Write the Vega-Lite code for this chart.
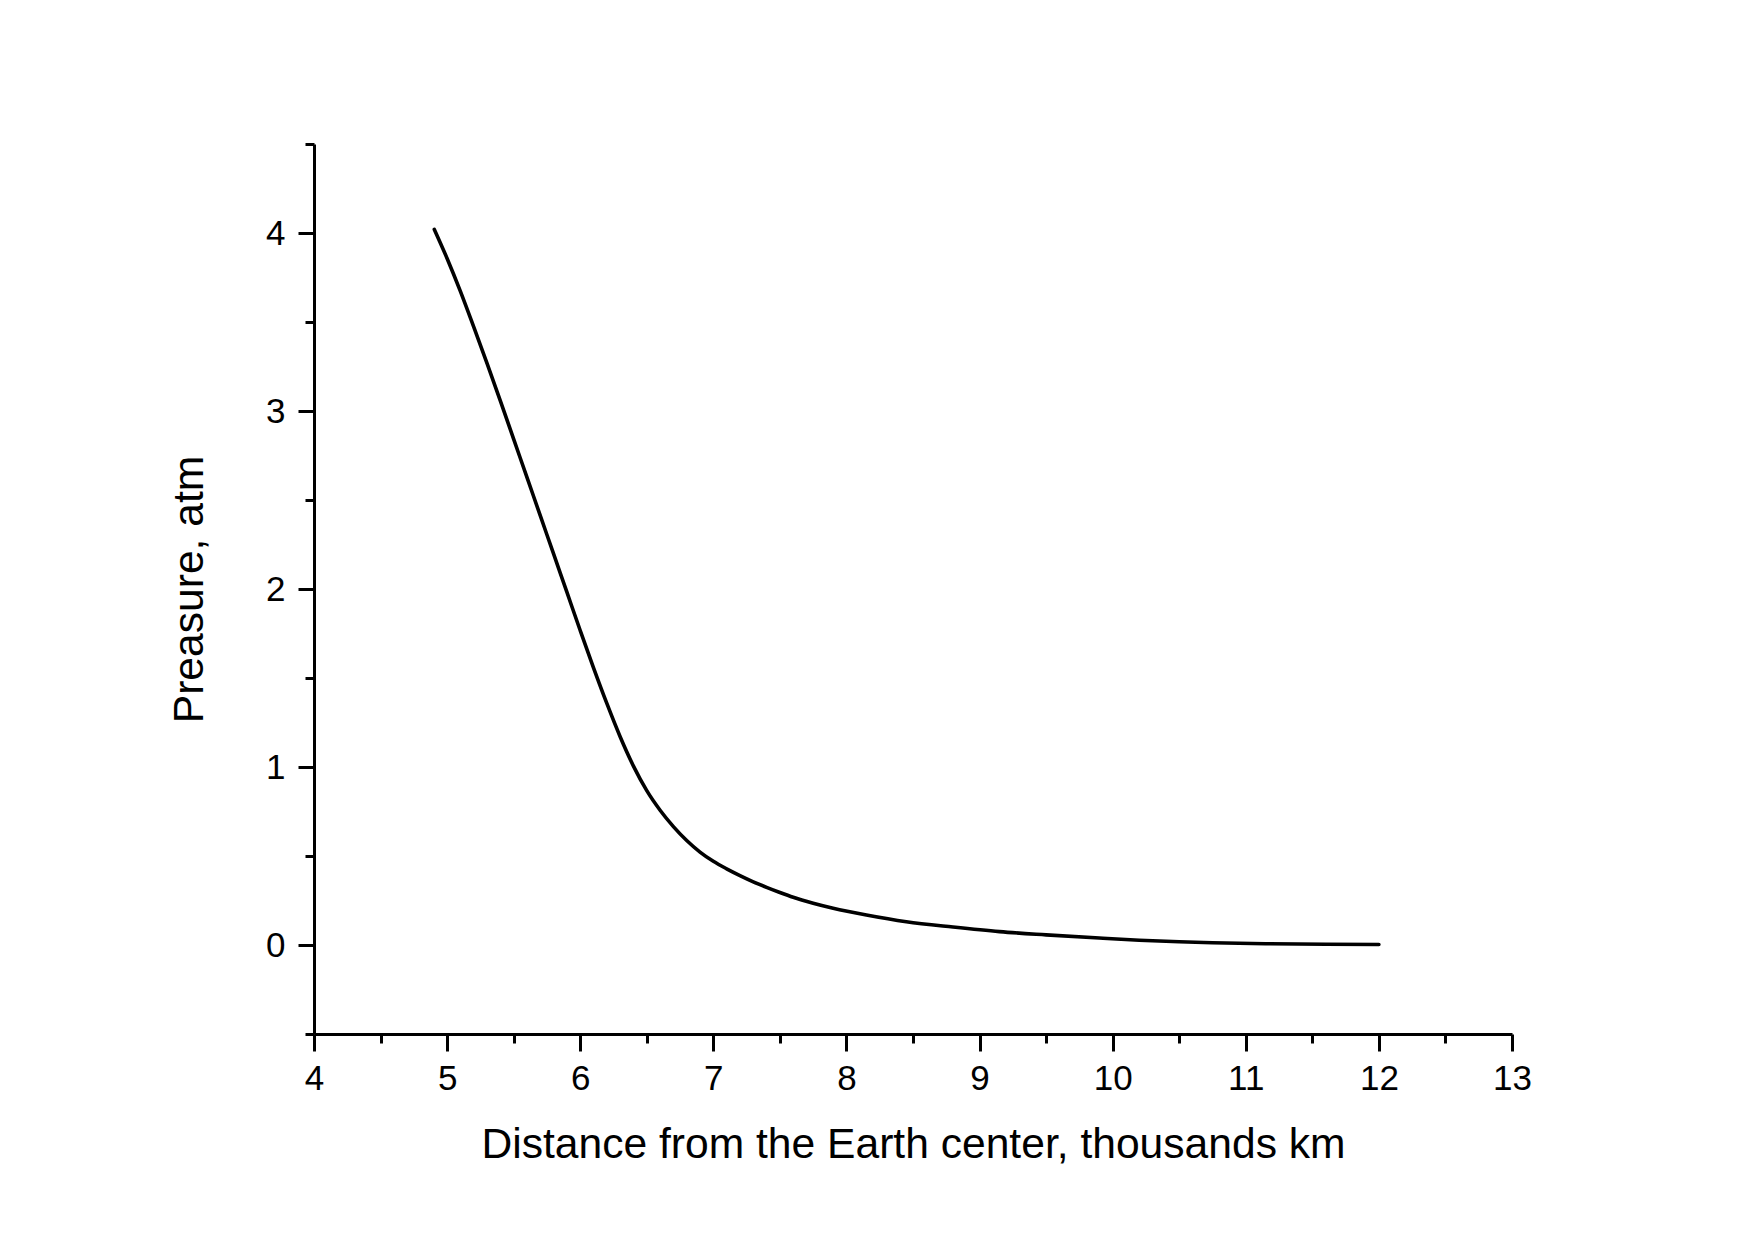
{
  "$schema": "https://vega.github.io/schema/vega-lite/v6.json",
  "autosize": {"type": "none"},
  "padding": {"left": 314, "top": 144, "right": 243, "bottom": 206},
  "width": 1198,
  "height": 890,
  "background": "white",
  "config": {
    "view": {"stroke": null},
    "font": "Liberation Sans",
    "axis": {
      "labelFont": "Liberation Sans",
      "titleFont": "Liberation Sans",
      "labelColor": "black",
      "titleColor": "black",
      "domainColor": "black",
      "tickColor": "black",
      "grid": false,
      "titleFontWeight": "normal"
    }
  },
  "data": {
    "values": [
      {"d": 4.904, "p": 4.02},
      {"d": 5.0, "p": 3.857},
      {"d": 5.1, "p": 3.672},
      {"d": 5.2, "p": 3.472},
      {"d": 5.3, "p": 3.267},
      {"d": 5.4, "p": 3.057},
      {"d": 5.5, "p": 2.842},
      {"d": 5.6, "p": 2.627},
      {"d": 5.7, "p": 2.412},
      {"d": 5.8, "p": 2.197},
      {"d": 5.9, "p": 1.982},
      {"d": 6.0, "p": 1.767},
      {"d": 6.1, "p": 1.557},
      {"d": 6.2, "p": 1.357},
      {"d": 6.3, "p": 1.17},
      {"d": 6.4, "p": 1.005},
      {"d": 6.5, "p": 0.867},
      {"d": 6.6, "p": 0.757},
      {"d": 6.7, "p": 0.665},
      {"d": 6.8, "p": 0.587},
      {"d": 6.9, "p": 0.522},
      {"d": 7.0, "p": 0.47},
      {"d": 7.1, "p": 0.428},
      {"d": 7.2, "p": 0.39},
      {"d": 7.3, "p": 0.355},
      {"d": 7.4, "p": 0.324},
      {"d": 7.5, "p": 0.295},
      {"d": 7.6, "p": 0.268},
      {"d": 7.75, "p": 0.235},
      {"d": 7.9, "p": 0.207},
      {"d": 8.15, "p": 0.169},
      {"d": 8.45, "p": 0.131},
      {"d": 8.8, "p": 0.101},
      {"d": 9.15, "p": 0.075},
      {"d": 9.5, "p": 0.057},
      {"d": 9.9, "p": 0.039},
      {"d": 10.2, "p": 0.027},
      {"d": 10.5, "p": 0.018},
      {"d": 10.75, "p": 0.013},
      {"d": 11.15, "p": 0.007},
      {"d": 11.6, "p": 0.004},
      {"d": 12.0, "p": 0.003}
    ]
  },
  "layer": [
    {
      "mark": {"type": "line", "color": "black", "strokeWidth": 3.6, "strokeCap": "round", "strokeJoin": "round", "interpolate": "monotone"},
      "encoding": {
        "x": {
          "field": "d", "type": "quantitative",
          "scale": {"domain": [4, 13], "nice": false, "zero": false},
          "axis": {
            "orient": "bottom",
            "title": "Distance from the Earth center, thousands km",
            "values": [4, 5, 6, 7, 8, 9, 10, 11, 12, 13],
            "format": "d",
            "labelFontSize": 35,
            "titleFontSize": 42.6,
            "tickSize": 17,
            "tickWidth": 3,
            "domainWidth": 3,
            "labelPadding": 10,
            "titlePadding": 27,
            "labelFlush": false,
            "labelOverlap": false
          }
        },
        "y": {
          "field": "p", "type": "quantitative",
          "scale": {"domain": [-0.5, 4.5], "nice": false, "zero": false},
          "axis": {
            "orient": "left",
            "title": "Preasure, atm",
            "values": [0, 1, 2, 3, 4],
            "format": "d",
            "labelFontSize": 35,
            "titleFontSize": 42.6,
            "tickSize": 16,
            "tickWidth": 3,
            "domainWidth": 3,
            "labelPadding": 13,
            "titlePadding": 54,
            "labelFlush": false,
            "labelOverlap": false
          }
        }
      }
    },
    {
      "mark": {"type": "line", "strokeOpacity": 0},
      "encoding": {
        "x": {
          "field": "d", "type": "quantitative",
          "axis": {
            "orient": "bottom",
            "title": null,
            "values": [4.5, 5.5, 6.5, 7.5, 8.5, 9.5, 10.5, 11.5, 12.5],
            "labels": false,
            "domain": false,
            "tickSize": 9,
            "tickWidth": 3
          }
        },
        "y": {
          "field": "p", "type": "quantitative",
          "axis": {
            "orient": "left",
            "title": null,
            "values": [-0.5, 0.5, 1.5, 2.5, 3.5, 4.5],
            "labels": false,
            "domain": false,
            "tickSize": 9,
            "tickWidth": 3
          }
        }
      }
    }
  ],
  "resolve": {"axis": {"x": "independent", "y": "independent"}}
}
